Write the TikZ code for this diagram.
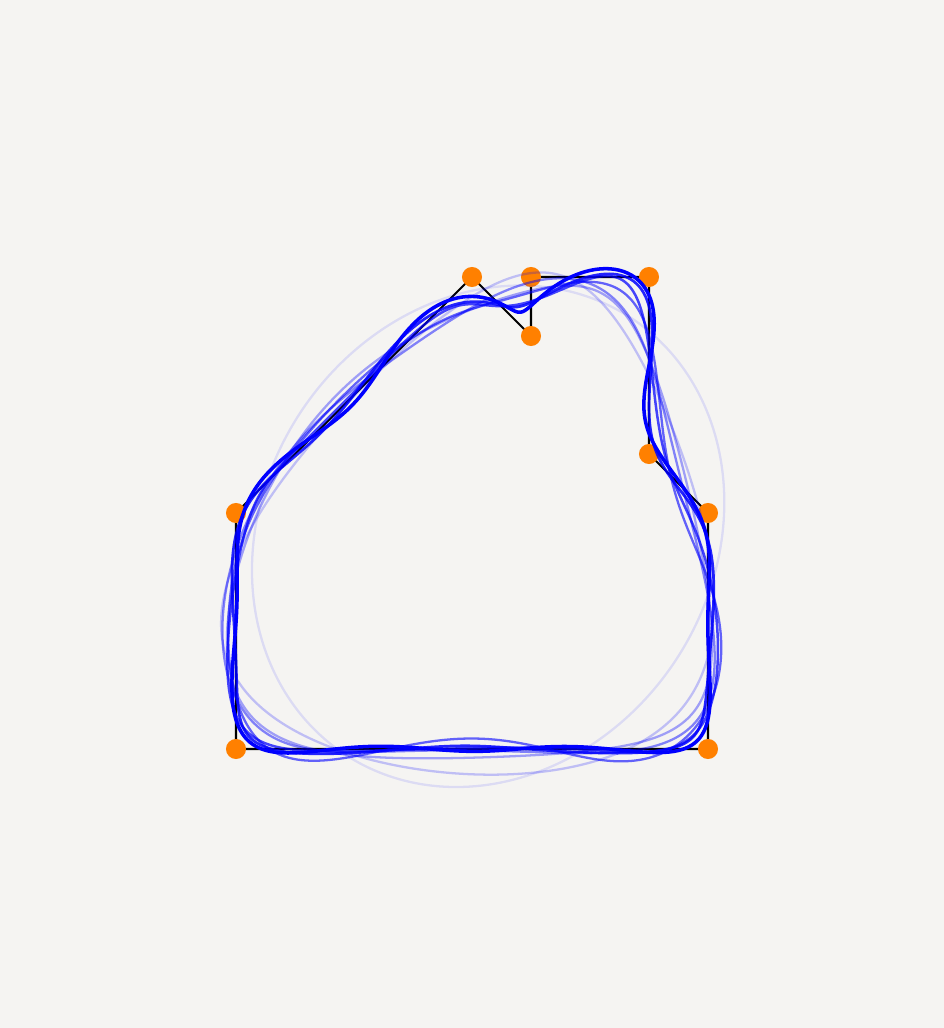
\documentclass[tikz,border=0pt]{standalone}
\usetikzlibrary{positioning}
\definecolor{paper}{HTML}{F5F4F2}
\definecolor{orangedot}{HTML}{FF8000}
\definecolor{fourier}{HTML}{0000FF}

\begin{document}
\begin{tikzpicture}
  \fill[paper] (-4,-4.7288) rectangle (12,12.6949);
  \useasboundingbox (-4,-4.7288) rectangle (12,12.6949);
  \foreach \n/\x/\y in {A/0/4, B/4/8, C/5/7, D/5/8, E/7/8, F/7/5, G/8/4, H/8/0, I/0/0}
    \coordinate (\n) at (\x,\y);
  \draw[line width=1pt] (A) -- (B) -- (C) -- (D) -- (E) -- (F) -- (G) -- (H) -- (I) -- cycle;
  \foreach \n in {A,B,C,D,E,F,G,H,I}
    \node[circle,fill=orangedot,inner sep=0pt,minimum size=0.34cm] (dot\n) at (\n) {};
  \pgfmathsetmacro\perim{30.48527}
  \pgfmathsetmacro\ang{360/\perim}
  \gdef\xe{4.27368}\gdef\ye{3.60540}
  \foreach \k in {1,...,8}{
    \gdef\sumPc{0}\gdef\sumQs{0}\gdef\sumUc{0}\gdef\sumVs{0}
    \foreach \tj/\dx/\dy in {0/0.70711/-0.29289, 5.65685/0/-1.41421, 7.07106/-0.70711/1.70711,
        8.07106/1/-1, 10.07106/-1/-1, 13.07106/0.70711/0.29289, 14.48527/-0.70711/-0.29289,
        18.48527/-1/1, 26.48527/1/1}{
      \pgfmathsetmacro\phase{\k*\ang*\tj}
      \pgfmathparse{\sumPc+\dx*cos(\phase)}\xdef\sumPc{\pgfmathresult}
      \pgfmathparse{\sumQs+\dy*sin(\phase)}\xdef\sumQs{\pgfmathresult}
      \pgfmathparse{\sumUc+\dy*cos(\phase)}\xdef\sumUc{\pgfmathresult}
      \pgfmathparse{\sumVs+\dx*sin(\phase)}\xdef\sumVs{\pgfmathresult}
    }
    \pgfmathsetmacro\ff{-\perim/(2*pi*pi*\k*\k)}
    \pgfmathsetmacro\kw{\k*\ang}
    \pgfmathsetmacro\cxa{\ff*\sumPc}\pgfmathsetmacro\cxb{\ff*\sumVs}
    \pgfmathsetmacro\cya{\ff*\sumUc}\pgfmathsetmacro\cyb{\ff*\sumQs}
    \xdef\xe{\unexpanded\expandafter{\xe}+(\cxa)*cos(\kw*\noexpand\s)+(\cxb)*sin(\kw*\noexpand\s)}
    \xdef\ye{\unexpanded\expandafter{\ye}+(\cya)*cos(\kw*\noexpand\s)+(\cyb)*sin(\kw*\noexpand\s)}
    \expandafter\global\expandafter\let\csname xe\k\endcsname\xe
    \expandafter\global\expandafter\let\csname ye\k\endcsname\ye
  }
  \foreach \n/\o/\w in {1/0.1/1.1pt, 2/0.22/1.1pt, 3/0.35/1.1pt, 4/0.47/1.1pt, 5/0.6/1.1pt, 6/0.72/1.2pt, 7/0.85/1.3pt, 8/1/1.7pt}{
    \expandafter\let\expandafter\curx\csname xe\n\endcsname
    \expandafter\let\expandafter\cury\csname ye\n\endcsname
    \draw[fourier,opacity=\o,line width=\w,line join=round]
      plot[domain=0:\perim,samples=360,variable=\s] ({\curx},{\cury}) -- cycle;
  }
\end{tikzpicture}
\end{document}
